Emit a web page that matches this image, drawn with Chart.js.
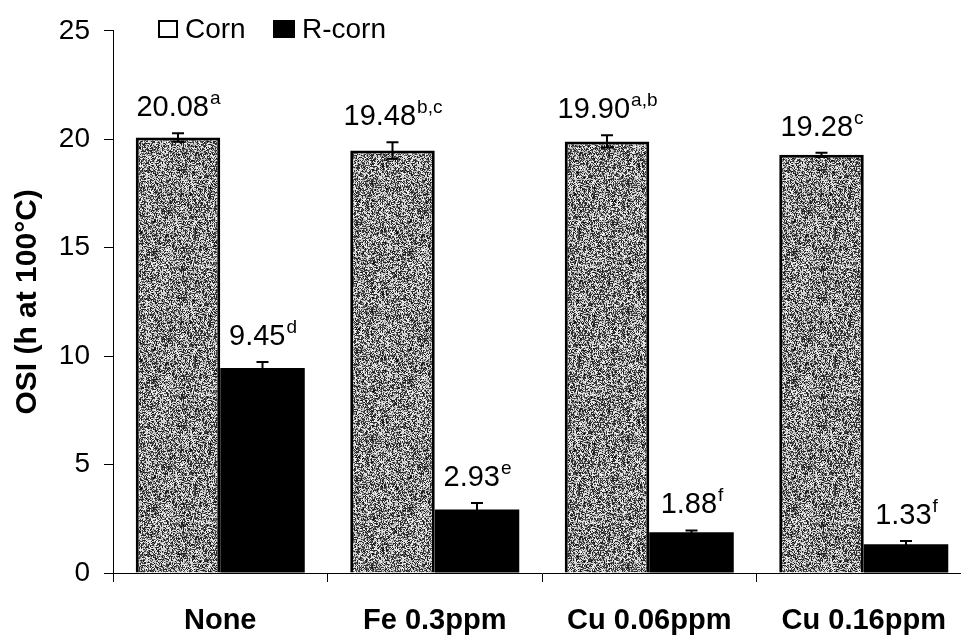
<!DOCTYPE html>
<html>
<head>
<meta charset="utf-8">
<script src="https://cdn.jsdelivr.net/npm/chart.js@4.4.1/dist/chart.umd.min.js"></script>
<style>
  html, body { margin: 0; padding: 0; background: #fff; overflow: hidden; }
  #wrap { width: 971px; height: 636px; }
</style>
</head>
<body>
<div id="wrap"><canvas id="osiChart" width="971" height="636"></canvas></div>
<script>
// Data
const treatments = ["None", "Fe 0.3ppm", "Cu 0.06ppm", "Cu 0.16ppm"];
const cornValues = [20.08, 19.48, 19.90, 19.28];
const rcornValues = [9.45, 2.93, 1.88, 1.33];
const cornErrors = [0.2, 0.38, 0.28, 0.1];
const rcornErrors = [0.28, 0.3, 0.08, 0.15];
const cornLetters = ["a", "b,c", "a,b", "c"];
const rcornLetters = ["d", "e", "f", "f"];
const yTicks = [0, 5, 10, 15, 20, 25];

const FONT = "'Liberation Sans', Arial, sans-serif";

// speckled grey fill, like the scanned print
function speckle() {
    const N = 128;
    const c = document.createElement("canvas");
    c.width = N; c.height = N;
    const g = c.getContext("2d");
    let seed = 12345;
    function rnd() { seed = (seed * 1103515245 + 12345) % 2147483648; return seed / 2147483648; }
    g.fillStyle = "#c8c8c8";
    g.fillRect(0, 0, N, N);
    // fine grain
    const img = g.getImageData(0, 0, N, N);
    for (let i = 0; i < N * N; i++) {
        const r = rnd();
        const v = r < 0.42 ? 20 + rnd() * 70 : 160 + rnd() * 95;
        img.data[i * 4] = v; img.data[i * 4 + 1] = v; img.data[i * 4 + 2] = v; img.data[i * 4 + 3] = 255;
    }
    g.putImageData(img, 0, 0);
    // coarser dark clumps
    g.fillStyle = "rgba(0,0,0,0.55)";
    for (let k = 0; k < 700; k++) {
        g.fillRect(Math.floor(rnd() * N), Math.floor(rnd() * N), 1 + Math.floor(rnd() * 2), 1 + Math.floor(rnd() * 2));
    }
    return g.createPattern(c, "repeat");
}

const errorBars = {
    id: "errorBars",
    afterDatasetsDraw(chart) {
        const ctx = chart.ctx;
        const y = chart.scales.y;
        const sets = [
            { vals: cornValues, errs: cornErrors, sup: cornLetters },
            { vals: rcornValues, errs: rcornErrors, sup: rcornLetters }
        ];
        ctx.save();
        sets.forEach((s, di) => {
            chart.getDatasetMeta(di).data.forEach((bar, i) => {
                const top = y.getPixelForValue(s.vals[i] + s.errs[i]);
                const bot = y.getPixelForValue(s.vals[i] - s.errs[i]);
                ctx.strokeStyle = "#000";
                ctx.lineWidth = 2;
                ctx.beginPath();
                ctx.moveTo(bar.x, top); ctx.lineTo(bar.x, bot);
                ctx.moveTo(bar.x - 6, top); ctx.lineTo(bar.x + 6, top);
                ctx.moveTo(bar.x - 6, bot); ctx.lineTo(bar.x + 6, bot);
                ctx.stroke();

                // value label with superscript letters
                const main = s.vals[i].toFixed(2);
                ctx.fillStyle = "#000";
                ctx.textBaseline = "alphabetic";
                ctx.textAlign = "left";
                ctx.font = "29px " + FONT;
                const w1 = ctx.measureText(main).width;
                ctx.font = "19px " + FONT;
                const w2 = ctx.measureText(s.sup[i]).width;
                const x0 = bar.x - (w1 + w2) / 2;
                const base = top - 17;
                ctx.font = "29px " + FONT;
                ctx.fillText(main, x0, base);
                ctx.font = "19px " + FONT;
                ctx.fillText(s.sup[i], x0 + w1 + 1, base - 12);
            });
        });

        // legend
        ctx.lineWidth = 2;
        ctx.fillStyle = "#fff";
        ctx.fillRect(159, 21, 18, 16);
        ctx.strokeRect(159, 21, 18, 16);
        ctx.fillStyle = "#000";
        ctx.fillRect(273, 20, 22, 18);
        ctx.font = "28px " + FONT;
        ctx.textBaseline = "alphabetic";
        ctx.textAlign = "left";
        ctx.fillText(chart.data.datasets[0].label, 185, 38);
        ctx.fillText(chart.data.datasets[1].label, 302, 38);
        ctx.restore();
    }
};

const ctx = document.getElementById("osiChart").getContext("2d");
new Chart(ctx, {
    type: "bar",
    data: {
        labels: treatments,
        datasets: [
            { label: "Corn", data: cornValues, backgroundColor: speckle(), borderColor: "#000", borderWidth: 3, borderSkipped: "bottom" },
            { label: "R-corn", data: rcornValues, backgroundColor: "#000", borderColor: "#000", borderWidth: 0 }
        ]
    },
    options: {
        responsive: false,
        animation: false,
        layout: { padding: { top: 29, left: 0, right: 0, bottom: 0 } },
        datasets: { bar: { categoryPercentage: 0.788, barPercentage: 1 } },
        plugins: { legend: { display: false }, tooltip: { enabled: false } },
        scales: {
            x: {
                afterFit: s => { s.height = 63; },
                grid: { offset: true, drawOnChartArea: false, drawTicks: true, tickLength: 9, color: "#000", lineWidth: 1 },
                border: { display: true, color: "#000", width: 1 },
                ticks: { color: "#000", padding: 22, font: { family: FONT, size: 29, weight: "bold" } }
            },
            y: {
                min: 0, max: 25,
                afterFit: s => { s.width = 113; },
                afterBuildTicks: s => { s.ticks = yTicks.map(v => ({ value: v })); },
                grid: { drawOnChartArea: false, drawTicks: true, tickLength: 9, color: "#000", lineWidth: 1 },
                border: { display: true, color: "#000", width: 1 },
                ticks: { color: "#000", padding: 14, font: { family: FONT, size: 28 } },
                title: { display: true, text: "OSI (h at 100°C)", color: "#000", padding: { top: 10, bottom: 0 }, font: { family: FONT, size: 30, weight: "bold" } }
            }
        }
    },
    plugins: [errorBars]
});
</script>
</body>
</html>
